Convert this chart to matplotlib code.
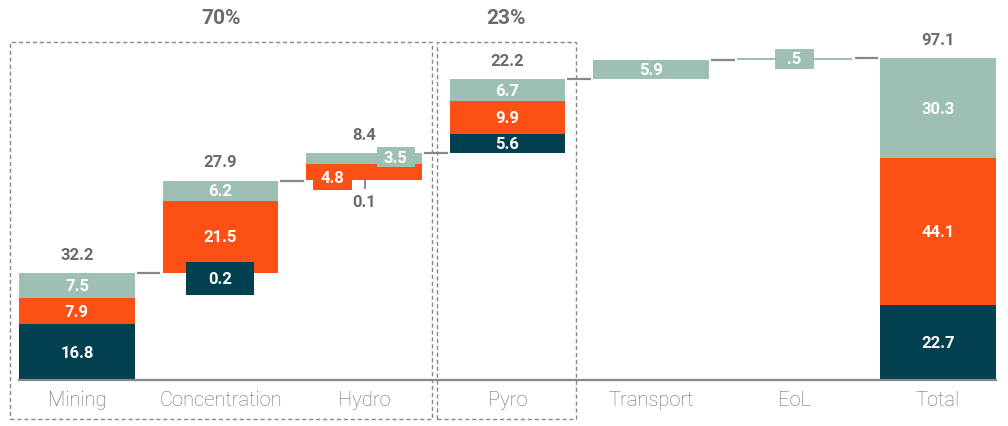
import numpy as np
import matplotlib
matplotlib.use("Agg")
import matplotlib.pyplot as plt
from matplotlib.patches import Rectangle

plt.rcParams.update({
    "font.family": ["Roboto", "DejaVu Sans"],
    "font.size": 12,
})

# ── Data ───────────────────────────────────────────────────────────────────
categories = ["Mining", "Concentration", "Hydro", "Pyro", "Transport", "EoL", "Total"]
dark = [16.8, 0.2, 0.1, 5.6, 0.0, 0.0, 22.7]
orange = [7.9, 21.5, 4.8, 9.9, 0.0, 0.0, 44.1]
light = [7.5, 6.2, 3.5, 6.7, 5.9, 0.5, 30.3]
light_text = ["7.5", "6.2", "3.5", "6.7", "5.9", ".5", "30.3"]
totals = [32.2, 27.9, 8.4, 22.2, 5.9, 0.5, 97.1]
show_total = [True, True, True, True, False, False, True]
groups = [("70%", 0, 2), ("23%", 3, 3)]

C_DARK = "#00404F"
C_ORANGE = "#FD5015"
C_LIGHT = "#9DBFB4"
C_TEXT = "#686B6F"
C_LINE = "#85888C"

fig = plt.figure(figsize=(10.08, 4.27), dpi=100)
ax = fig.add_axes([19 / 1008, 46 / 427, 977 / 1008, 381 / 427])

x = np.arange(len(categories))
W = 0.808

# waterfall bases: each step starts where the previous ended, Total from 0
base = np.concatenate([[0], np.cumsum(totals[:-2])])
base = np.append(base, 0.0)
dark = np.array(dark)
orange = np.array(orange)
light = np.array(light)

# sub-pixel slivers are shown only through their call-out boxes
dark_drawn = np.where(dark >= 0.3, dark, 0)
ax.bar(x, dark_drawn, W, bottom=base, color=C_DARK, zorder=2)
ax.bar(x, orange, W, bottom=base + dark, color=C_ORANGE, zorder=2)
ax.bar(x, light, W, bottom=base + dark + orange, color=C_LIGHT, zorder=2)

ax.set_xlim(-W / 2, len(categories) - 1 + W / 2)
ax.set_ylim(0, 114.9)

# connectors between steps
tops = base + dark + orange + light
gap = 0.014
for i in range(len(categories) - 1):
    ax.plot([x[i] + W / 2 + gap, x[i + 1] - W / 2 - gap], [tops[i], tops[i]],
            color=C_LINE, lw=1.6, zorder=1, solid_capstyle="butt")

val_kw = dict(ha="center", va="center", color="white", fontsize=12,
              fontweight="bold", zorder=5)


def box_label(ax, text, cx, cy, w, h, color):
    ax.add_patch(Rectangle((cx - w / 2, cy - h / 2), w, h, color=color, lw=0, zorder=3))
    ax.text(cx, cy, text, **val_kw)


# segment labels
for i in range(len(categories)):
    b = base[i]
    segs = [(dark[i], f"{dark[i]:.1f}", b),
            (orange[i], f"{orange[i]:.1f}", b + dark[i]),
            (light[i], light_text[i], b + dark[i] + orange[i])]
    for v, t, bot in segs:
        if v >= 5.5:
            ax.text(x[i], bot + v / 2, t, **val_kw)

# small segments get call-out boxes
box_label(ax, f"{dark[1]:.1f}", x[1], base[1] - 1.6, 0.474, 9.8, C_DARK)
hb = base[2]
box_label(ax, light_text[2], x[2] + 0.222, hb + dark[2] + orange[2] + light[2] / 2 + 0.5,
          0.267, 5.85, C_LIGHT)
box_label(ax, f"{orange[2]:.1f}", x[2] - 0.22, hb + dark[2] + orange[2] / 2 - 1.4,
          0.272, 7.6, C_ORANGE)
ax.plot([x[2] + 0.01, x[2] + 0.01], [hb, hb - 2.2], color=C_LINE, lw=1.4, zorder=1)
ax.text(x[2], hb - 6.4, f"{dark[2]:.1f}", ha="center", va="center", color=C_TEXT,
        fontsize=12, fontweight="bold")
box_label(ax, light_text[5], x[5], base[5] + light[5] / 2, 0.272, 5.94, C_LIGHT)

# step totals above bars
for i in range(len(categories)):
    if show_total[i]:
        ax.annotate(f"{totals[i]:.1f}", xy=(x[i], tops[i]), xytext=(0, 13.5),
                    textcoords="offset points", ha="center", va="center",
                    color=C_TEXT, fontsize=12, fontweight="bold")

# dashed group boxes with share labels
for label, i0, i1 in groups:
    left = x[i0] - (0.467 if i0 == 0 else 0.491)
    right = x[i1] + (0.474 if i1 == 2 else 0.477)
    ax.add_patch(Rectangle((left, -11.8), right - left, 113.7, fill=False,
                           ec=C_LINE, lw=1.0, ls=(0, (3, 2)), clip_on=False, zorder=0))
    ax.annotate(label, xy=((left + right) / 2, 101.9), xytext=(0, 18),
                textcoords="offset points", ha="center", va="center",
                color=C_TEXT, fontsize=15, fontweight="bold", annotation_clip=False)

# axes styling
for s in ["top", "right", "left"]:
    ax.spines[s].set_visible(False)
ax.spines["bottom"].set_color(C_LINE)
ax.spines["bottom"].set_linewidth(1.6)
ax.set_yticks([])
ax.set_xticks(x)
ax.set_xticklabels(categories, fontsize=14.5, color=C_TEXT, fontweight="light")
ax.tick_params(axis="x", length=0, pad=7.5)

fig.savefig("out.png", dpi=100)
